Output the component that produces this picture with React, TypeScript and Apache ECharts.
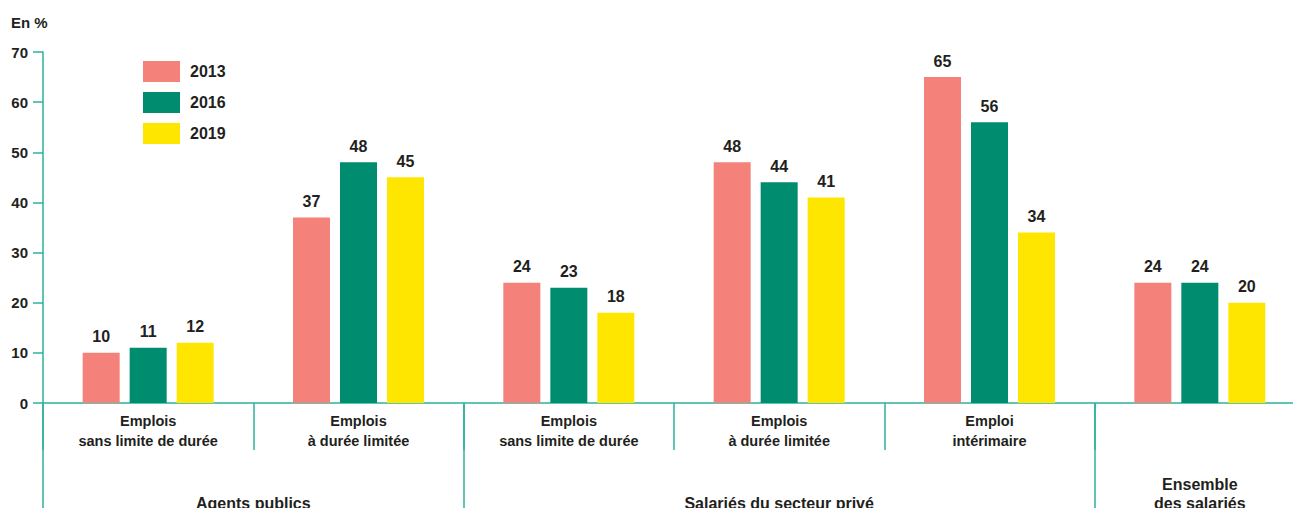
import React, { useEffect, useRef } from "react";
import * as echarts from "echarts";

const categories = [
  "Emplois\nsans limite de durée",
  "Emplois\nà durée limitée",
  "Emplois\nsans limite de durée",
  "Emplois\nà durée limitée",
  "Emploi\nintérimaire",
  "",
];
const groupNames = ["Agents publics", "Salariés du secteur privé", "Ensemble\ndes salariés"];
const groupCenters = [1, 3.5, 5.5];
const groupBounds = [0, 2, 5];
const years = ["2013", "2016", "2019"];
const values2013 = [10, 37, 24, 48, 65, 24];
const values2016 = [11, 48, 23, 44, 56, 24];
const values2019 = [12, 45, 18, 41, 34, 20];
const yTicks = [0, 10, 20, 30, 40, 50, 60, 70];

const COLORS = ["#f4827b", "#008c6e", "#ffe600"];
const AXIS = "#2bb39a";
const TEXT = "#231f20";
const FONT = "Liberation Sans, Arial, sans-serif";

export default function App() {
  const ref = useRef<HTMLDivElement>(null);
  useEffect(() => {
    if (!ref.current) return;
    const chart = echarts.init(ref.current, null, { renderer: "svg" });
    const seriesData = [values2013, values2016, values2019];
    chart.setOption({
      animation: false,
      textStyle: { fontFamily: FONT },
      title: {
        text: "En %",
        left: 6,
        top: 10,
        textStyle: { fontSize: 15, fontWeight: "bold", color: TEXT, fontFamily: FONT },
      },
      legend: {
        data: years,
        orient: "vertical",
        left: 138,
        top: 56,
        itemWidth: 37,
        itemHeight: 21,
        itemGap: 10,
        icon: "rect",
        textStyle: { fontSize: 16, fontWeight: "bold", color: TEXT, fontFamily: FONT, padding: [0, 0, 0, 5] },
      },
      grid: { left: 43, right: -12, top: 52, bottom: 105, containLabel: false, outerBoundsMode: "none" },
      xAxis: [
        {
          type: "category",
          data: categories,
          axisLine: { lineStyle: { color: AXIS, width: 1.5 } },
          axisTick: { show: true, interval: 0, length: 47, lineStyle: { color: AXIS, width: 1.5 } },
          axisLabel: {
            interval: 0,
            margin: 8,
            fontSize: 14.5,
            fontWeight: "bold",
            color: TEXT,
            lineHeight: 20,
            fontFamily: FONT,
          },
        },
        {
          type: "value",
          min: 0,
          max: 6,
          position: "bottom",
          axisLine: { show: false },
          splitLine: { show: false },
          axisTick: {
            show: true,
            customValues: groupBounds,
            length: 106,
            lineStyle: { color: AXIS, width: 1.5 },
          },
          axisLabel: {
            customValues: groupCenters,
            margin: 110,
            verticalAlign: "bottom",
            fontSize: 16,
            fontWeight: "bold",
            color: TEXT,
            lineHeight: 19,
            fontFamily: FONT,
            formatter: (v: number) => {
              const i = groupCenters.indexOf(v);
              return i >= 0 ? groupNames[i] : "";
            },
          },
        },
      ],
      yAxis: {
        type: "value",
        min: 0,
        max: 70,
        interval: 10,
        axisLine: { show: true, lineStyle: { color: AXIS, width: 1.5 } },
        axisTick: { show: true, length: 10, lineStyle: { color: AXIS, width: 1.5 } },
        splitLine: { show: false },
        axisLabel: {
          margin: 15,
          fontSize: 15,
          fontWeight: "bold",
          color: TEXT,
          fontFamily: FONT,
          customValues: yTicks,
        },
      },
      series: years.map((y, i) => ({
        name: y,
        type: "bar",
        xAxisIndex: 0,
        data: seriesData[i],
        barWidth: 37,
        barGap: "27%",
        itemStyle: { color: COLORS[i] },
        label: {
          show: true,
          position: "top",
          distance: 8,
          fontSize: 16,
          fontWeight: "bold",
          color: TEXT,
          fontFamily: FONT,
        },
      })),
    });
    return () => chart.dispose();
  }, []);
  return (
    <div
      ref={ref}
      style={{ position: "fixed", left: 0, top: 0, width: 1293, height: 508, background: "#fff" }}
    />
  );
}
